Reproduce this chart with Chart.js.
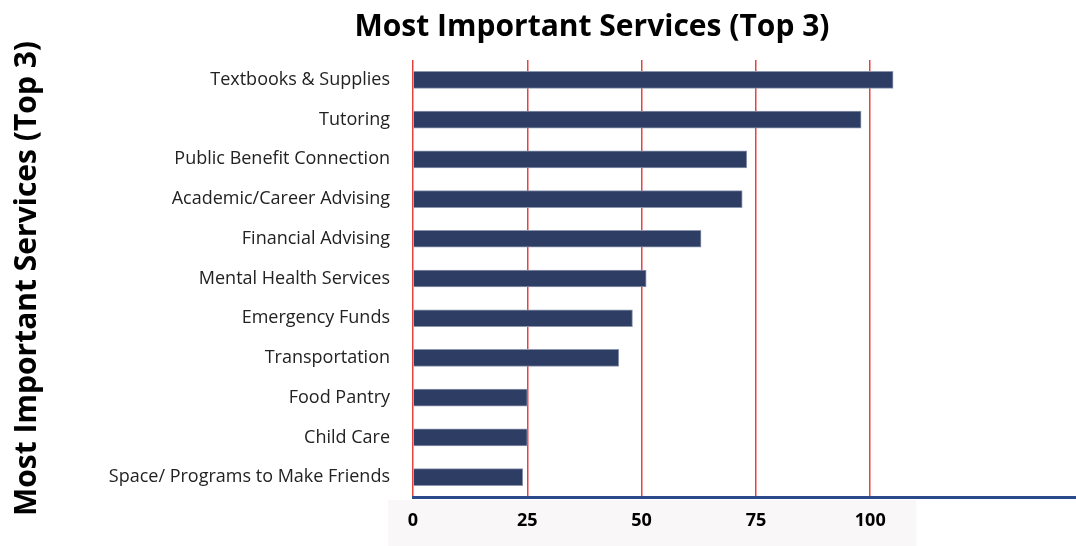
<!DOCTYPE html>
<html>
<head>
<meta charset="utf-8">
<script src="https://cdn.jsdelivr.net/npm/chart.js@4"></script>
<style>
  html, body { margin: 0; padding: 0; background: #ffffff; overflow: hidden; }
  #wrap { position: relative; width: 1076px; height: 546px; overflow: hidden; }
  #title { position: absolute; left: 0; top: 4px; width: 1184px; text-align: center;
           font-family: "Open Sans", sans-serif; font-weight: 700; font-size: 30px; color: #000; }
  canvas { position: absolute; left: 0; top: 0; }
</style>
</head>
<body>
<div id="wrap">
  <canvas id="c" width="1076" height="546"></canvas>
  <div id="title">Most Important Services (Top 3)</div>
</div>
<script>
const categories = [
  "Textbooks & Supplies",
  "Tutoring",
  "Public Benefit Connection",
  "Academic/Career Advising",
  "Financial Advising",
  "Mental Health Services",
  "Emergency Funds",
  "Transportation",
  "Food Pantry",
  "Child Care",
  "Space/ Programs to Make Friends"
];
const values = [105, 98, 73, 72, 63, 51, 48, 45, 25, 25, 24];
const tickLabels = [0, 25, 50, 75, 100];
const axisTitle = "Most Important Services (Top 3)";

const labelBg = {
  id: 'labelBg',
  beforeDraw(chart) {
    const x = chart.scales.x;
    const ctx = chart.ctx;
    const left = x.left - 25;
    const right = x.getPixelForValue(tickLabels[tickLabels.length - 1]) + 46;
    ctx.save();
    ctx.fillStyle = '#f9f7f8';
    ctx.fillRect(left, x.top + 3, right - left, x.bottom - x.top);
    ctx.restore();
  }
};

const RED = '#e8423f';
const NONE = 'rgba(255,255,255,0)';

new Chart(document.getElementById('c'), {
  type: 'bar',
  data: {
    labels: categories,
    datasets: [{
      data: values,
      backgroundColor: '#2d3d64',
      borderColor: '#8c96ae',
      borderWidth: 1,
      barThickness: 17
    }]
  },
  options: {
    indexAxis: 'y',
    responsive: false,
    animation: false,
    layout: { padding: { top: 60, left: 9, right: 0, bottom: 0 } },
    plugins: { legend: { display: false }, tooltip: { enabled: false } },
    scales: {
      x: {
        min: 0, max: 145,
        ticks: {
          stepSize: 25,
          padding: 0,
          color: '#000',
          font: { family: 'Open Sans', size: 18, weight: 'bold', lineHeight: 2.6 },
          callback: (v) => tickLabels.includes(v) ? String(v) : ''
        },
        grid: {
          drawTicks: false,
          lineWidth: 1.5,
          color: [RED, RED, RED, RED, RED, NONE, NONE]
        },
        border: { display: true, color: '#2a4a8c', width: 3 },
        afterFit: (s) => { s.height = 49; }
      },
      y: {
        ticks: {
          padding: 23,
          color: '#222',
          font: { family: 'Open Sans', size: 18 }
        },
        grid: { display: false, drawTicks: false },
        border: { display: false },
        title: {
          display: true,
          text: axisTitle,
          color: '#000',
          padding: 0,
          font: { family: 'Open Sans', size: 30, weight: 'bold' }
        },
        afterFit: (s) => { s.width = 404; }
      }
    }
  },
  plugins: [labelBg]
});
</script>
</body>
</html>
